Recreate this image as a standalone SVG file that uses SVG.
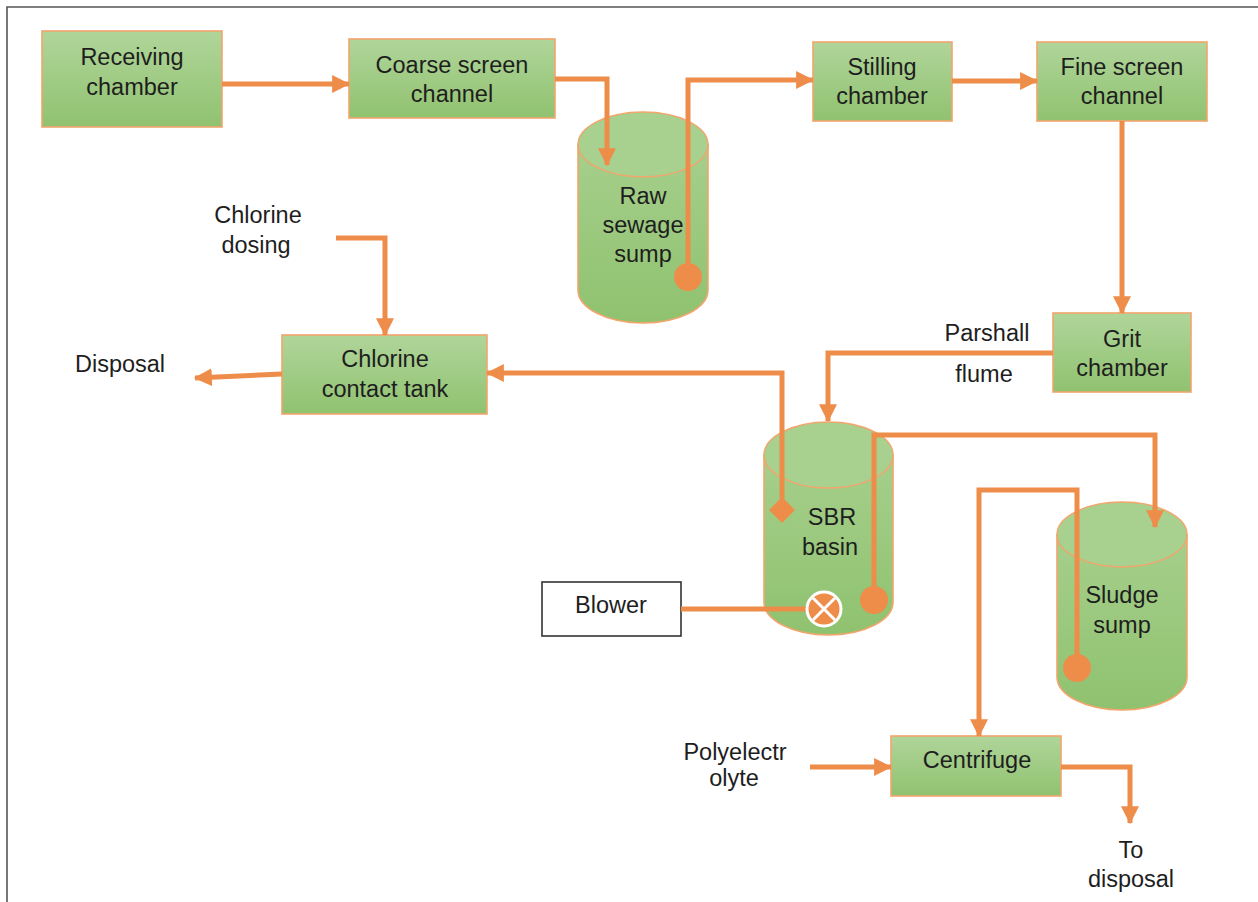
<svg xmlns="http://www.w3.org/2000/svg" width="1258" height="902" viewBox="0 0 1258 902">
<style>
.box{fill:url(#gb);stroke:#f2a56c;stroke-width:1.6}
.cylb{fill:url(#gc);stroke:#f2a56c;stroke-width:1.6}
.cylt{fill:#a8d08e;stroke:#f2a56c;stroke-width:1.4}
.t{font-family:"Liberation Sans",Arial,sans-serif;font-size:23.5px;fill:#1e1e1e;text-anchor:middle}
.c{fill:none;stroke:#ee8c4a;stroke-width:5;stroke-linejoin:miter}
.a{marker-end:url(#ah)}
.dot{fill:#ee8c4a}
</style>
<defs>
<linearGradient id="gb" x1="0" y1="0" x2="0" y2="1"><stop offset="0" stop-color="#b0d59a"/><stop offset="1" stop-color="#90c270"/></linearGradient>
<linearGradient id="gc" x1="0" y1="0" x2="0" y2="1"><stop offset="0" stop-color="#a6cf8c"/><stop offset="1" stop-color="#8fc26f"/></linearGradient>
<marker id="ah" markerUnits="userSpaceOnUse" markerWidth="18" markerHeight="18" viewBox="0 0 16 16" refX="15" refY="8" orient="auto"><path d="M0,0 L16,8 L0,16 Z" fill="#ee8c4a"/></marker>
</defs>
<rect width="1258" height="902" fill="#fff"/>
<path d="M7,902 V7 H1258" fill="none" stroke="#555" stroke-width="1.6"/>

<g id="receiving"><rect class="box" x="42" y="31" width="180" height="96"/><text class="t" x="132" y="65">Receiving</text><text class="t" x="132" y="95">chamber</text></g>
<g id="coarse"><rect class="box" x="349" y="39" width="206" height="79"/><text class="t" x="452" y="73">Coarse screen</text><text class="t" x="452" y="102">channel</text></g>
<g id="rawsump"><path class="cylb" d="M578,144.5 V290 A65,33 0 0 0 708,290 V144.5 Z"/><ellipse class="cylt" cx="643" cy="144.5" rx="65" ry="32.5"/><text class="t" x="643" y="204">Raw</text><text class="t" x="643" y="233">sewage</text><text class="t" x="643" y="262">sump</text></g>
<g id="stilling"><rect class="box" x="813" y="42" width="139" height="79"/><text class="t" x="882" y="75">Stilling</text><text class="t" x="882" y="104">chamber</text></g>
<g id="fine"><rect class="box" x="1037" y="42" width="170" height="79"/><text class="t" x="1122" y="75">Fine screen</text><text class="t" x="1122" y="104">channel</text></g>
<g id="grit"><rect class="box" x="1053" y="313" width="138" height="79"/><text class="t" x="1122" y="347">Grit</text><text class="t" x="1122" y="376">chamber</text></g>
<g id="parshall"><text class="t" x="987" y="341">Parshall</text><text class="t" x="984" y="382">flume</text></g>
<g id="cdosing"><text class="t" x="258" y="223">Chlorine</text><text class="t" x="256" y="253">dosing</text></g>
<g id="cct"><rect class="box" x="282" y="335" width="205" height="79"/><text class="t" x="385" y="367">Chlorine</text><text class="t" x="385" y="397">contact tank</text></g>
<g id="disposal"><text class="t" x="120" y="372">Disposal</text></g>
<g id="sbr"><path class="cylb" d="M764,455 V602 A64.5,33 0 0 0 893,602 V455 Z"/><ellipse class="cylt" cx="828.5" cy="455" rx="64.5" ry="33"/><text class="t" x="832" y="525">SBR</text><text class="t" x="830" y="555">basin</text></g>
<g id="blower"><rect x="542" y="582" width="139" height="54" fill="#fff" stroke="#333" stroke-width="1.6"/><text class="t" x="611" y="613">Blower</text></g>
<g id="sludge"><path class="cylb" d="M1057,534.5 V677 A65,33 0 0 0 1187,677 V534.5 Z"/><ellipse class="cylt" cx="1122" cy="534.5" rx="65" ry="32.5"/><text class="t" x="1122" y="603">Sludge</text><text class="t" x="1122" y="633">sump</text></g>
<g id="centrifuge"><rect class="box" x="891" y="736" width="170" height="60"/><text class="t" x="977" y="768">Centrifuge</text></g>
<g id="poly"><text class="t" x="735" y="760">Polyelectr</text><text class="t" x="734" y="786">olyte</text></g>
<g id="todisposal"><text class="t" x="1131" y="858">To</text><text class="t" x="1131" y="887">disposal</text></g>

<g id="connectors">
<path class="c a" d="M222,84 H349"/>
<path class="c a" d="M555,79 H607 V165"/>
<path class="c a" d="M688,277 V80 H813"/>
<circle class="dot" cx="688" cy="277" r="14"/>
<path class="c a" d="M952,81 H1037"/>
<path class="c a" d="M1122,121 V313"/>
<path class="c a" d="M1053,353 H828 V421"/>
<path class="c a" d="M782,510 V373 H487"/>
<path class="dot" d="M782,497 L795,510 L782,523 L769,510 Z"/>
<path class="c a" d="M336,238 H385 V335"/>
<path class="c a" d="M282,374 L195,378"/>
<path class="c" d="M681,609 H808"/>
<circle cx="824" cy="609" r="17" fill="#ee8c4a" stroke="#fff" stroke-width="3"/>
<path d="M813,598 L835,620 M835,598 L813,620" stroke="#fff" stroke-width="3"/>
<path class="c a" d="M874,600 V435 H1155 V527"/>
<circle class="dot" cx="874" cy="600" r="14"/>
<path class="c a" d="M1077,668 V490 H979 V736"/>
<circle class="dot" cx="1077" cy="668" r="14"/>
<path class="c a" d="M810,767 H891"/>
<path class="c a" d="M1061,767 H1130 V823"/>
</g>
</svg>
